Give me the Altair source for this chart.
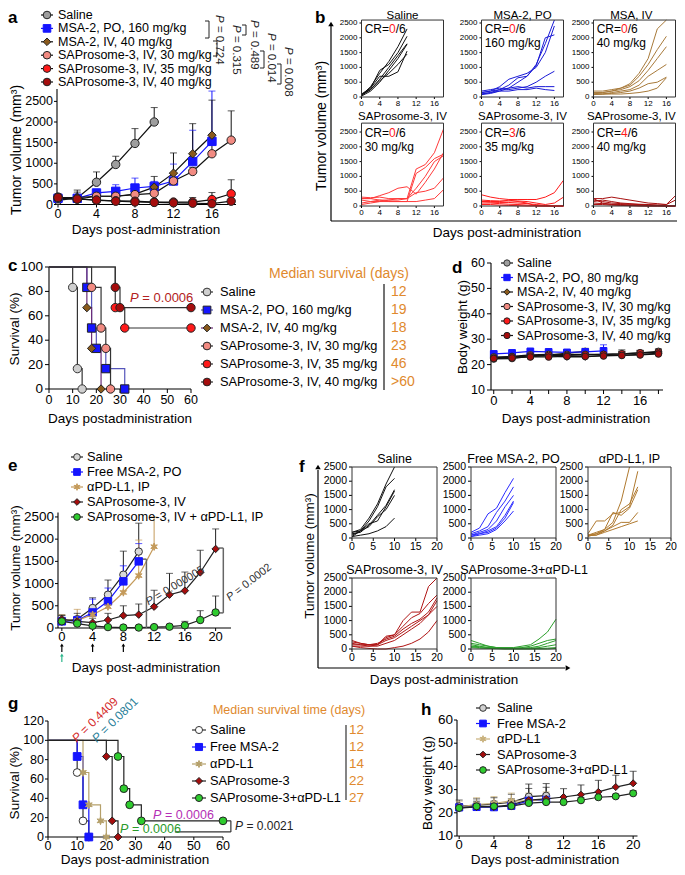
import math
import altair as alt
import pandas as pd

M = 8
W, H = 669, 859
FONT = "Liberation Sans"
ORANGE = "#E0892D"
STAR = "M0,-1L0.22,-0.38L0.87,-0.5L0.44,0L0.87,0.5L0.22,0.38L0,1L-0.22,0.38L-0.87,0.5L-0.44,0L-0.87,-0.5L-0.22,-0.38Z"

# ---------------- (a) mean tumour volume ----------------
a_names = ["Saline", "MSA-2, PO, 160 mg/kg", "MSA-2, IV, 40 mg/kg",
           "SAProsome-3, IV, 30 mg/kg", "SAProsome-3, IV, 35 mg/kg", "SAProsome-3, IV, 40 mg/kg"]
a_days = [0, 2, 4, 6, 8, 10, 12, 14, 16, 18]
a_saline = [100, 160, 540, 970, 1480, 2000]
a_saline_top = [220, 350, 790, 1170, 1840, 2350]
a_msa_po = [150, 150, 280, 320, 400, 440, 570, 1040, 1530]
a_msa_po_top = [200, 200, 330, 480, 640, 560, 980, 1800, 2750]
a_msa_iv = [170, 170, 200, 200, 250, 420, 760, 1230, 1680]
a_msa_iv_top = [260, 300, 250, 250, 300, 680, 1250, 1960, 2530]
a_sap30 = [150, 130, 200, 200, 240, 270, 570, 800, 1230, 1560]
a_sap30_top = [200, 200, 250, 250, 300, 350, 600, 900, 1500, 2270]
a_sap35 = [180, 140, 100, 90, 80, 60, 60, 60, 120, 260]
a_sap35_top = [230, 200, 150, 130, 120, 100, 100, 170, 290, 600]
a_sap40 = [170, 130, 110, 80, 60, 50, 40, 30, 20, 80]
a_sap40_top = [220, 180, 150, 120, 100, 80, 70, 60, 50, 200]
a_fill = ["#9e9e9e", "#1515ff", "#8a5a1c", "#f28b82", "#ff1a1a", "#a50d0d"]
a_stroke = ["#222222", "#1515ff", "#222222", "#222222", "#222222", "#222222"]
a_line = ["#111111", "#1515ff", "#111111", "#111111", "#111111", "#111111"]
a_shape = ["circle", "square", "diamond", "circle", "circle", "circle"]
a_pvals = ["= 0.724", "= 0.315", "= 0.489", "= 0.014", "= 0.008"]
a_xticks = [0, 4, 8, 12, 16]
a_yticks = [0, 500, 1000, 1500, 2000, 2500]

# ---------------- (b) individual curves ----------------
b_days = [0, 2, 4, 6, 8, 10, 12, 14, 16, 18]
b_titles = ["Saline", "MSA-2, PO", "MSA, IV", "SAProsome-3, IV", "SAProsome-3, IV", "SAProsome-3, IV"]
b_cr = ["0", "0", "0", "0", "3", "4"]
b_dose = ["", "160 mg/kg", "40 mg/kg", "30 mg/kg", "35 mg/kg", "40 mg/kg"]
b_colors = ["#111111", "#1a1ad6", "#a87a3a", "#ff3b3b", "#ff1a1a", "#a81010"]
b_saline = [[60, 350, 800, 1200, 1700, 2300], [50, 300, 900, 1100, 1500, 2050],
            [80, 250, 600, 1000, 1400, 1800], [30, 200, 500, 900, 1300, 1780],
            [100, 300, 700, 700, 850, 1550], [60, 250, 550, 800, 1100, 1450]]
b_msa_po = [[100, 150, 250, 400, 650, 700, 1100, 1800, 2800], [150, 200, 350, 600, 700, 800, 1000, 1500, 2400],
            [80, 120, 200, 300, 500, 700, 1050, 2000, 2100], [200, 250, 300, 250, 300, 350, 500, 700, 870],
            [150, 200, 250, 300, 350, 300, 350, 350, 350], [100, 150, 200, 200, 250, 250, 300, 250, 220]]
b_msa_iv = [[200, 200, 250, 300, 450, 800, 1300, 2300, 2800], [150, 150, 200, 300, 400, 700, 1100, 1600, 2050],
            [100, 150, 200, 250, 350, 550, 900, 1300, 1700], [100, 100, 150, 200, 250, 400, 700, 900, 1100],
            [80, 100, 120, 150, 200, 300, 450, 500, 670], [100, 100, 100, 100, 120, 150, 200, 300, 650]]
b_sap30 = [[300, 280, 300, 250, 250, 250, 1250, 1400, 1800, 2600], [250, 250, 350, 450, 600, 650, 400, 800, 1250, 1800],
           [200, 150, 200, 200, 250, 250, 600, 1000, 1500, 1700], [100, 150, 150, 200, 200, 250, 450, 500, 600, 950],
           [50, 100, 150, 150, 150, 150, 150, 200, 250, 550], [250, 250, 200, 150, 150, 150, 1100, 1300, 1600, 1750]]
b_sap35 = [[380, 300, 250, 220, 220, 220, 220, 300, 450, 870], [200, 180, 170, 170, 170, 150, 100, 50, 100, 300],
           [150, 130, 120, 120, 100, 80, 50, 20, 0, 0], [100, 100, 80, 60, 50, 30, 20, 0, 0, 0],
           [150, 150, 150, 200, 150, 100, 0, 0, 0, 0], [50, 50, 30, 20, 10, 0, 0, 0, 0, 0]]
b_sap40 = [[250, 250, 300, 250, 200, 150, 100, 80, 50, 350], [200, 150, 100, 80, 60, 50, 40, 30, 50, 200],
           [150, 200, 150, 100, 80, 60, 50, 30, 0, 0], [250, 100, 50, 30, 20, 10, 0, 0, 0, 0],
           [100, 80, 60, 50, 40, 30, 20, 10, 0, 0], [50, 50, 30, 20, 10, 0, 0, 0, 0, 0]]
b_xticks = [0, 4, 8, 12, 16]
b_yticks = [0, 500, 1000, 1500, 2000, 2500]

# ---------------- (c) survival ----------------
c_names = a_names
c_days = [[0, 10, 12, 14], [0, 16, 18, 20, 24, 32], [0, 16, 18, 22], [0, 18, 22, 24, 26], [0, 28, 32, 60], [0, 28, 30, 60]]
c_surv = [[100, 83.3, 16.7, 0], [100, 83.3, 50, 33.3, 16.7, 0], [100, 66.7, 33.3, 0],
          [100, 83.3, 50, 33.3, 0], [100, 66.7, 50, 50], [100, 83.3, 66.7, 66.7]]
c_median = ["12", "19", "18", "23", "46", ">60"]
c_fill = ["#cfcfcf", "#1515ff", "#8a5a1c", "#f28b82", "#ff1a1a", "#a50d0d"]
c_stroke = ["#333333", "#222222", "#222222", "#222222", "#222222", "#222222"]
c_line = ["#333333", "#5555bb", "#6b2d7a", "#333333", "#333333", "#333333"]
c_xticks = [0, 10, 20, 30, 40, 50, 60]
c_yticks = [0, 20, 40, 60, 80, 100]

# ---------------- (d) body weight ----------------
d_names = ["Saline", "MSA-2, PO, 80 mg/kg", "MSA-2, IV, 40 mg/kg",
           "SAProsome-3, IV, 30 mg/kg", "SAProsome-3, IV, 35 mg/kg", "SAProsome-3, IV, 40 mg/kg"]
d_days = [0, 2, 4, 6, 8, 10, 12, 14, 16, 18]
d_saline = [22.2, 22.4, 23.2, 23.6, 24.5, 25.2]
d_saline_top = [23.4, 23.8, 24.4, 25.0, 25.8, 26.4]
d_msa_po = [24.2, 24.6, 25.2, 25.0, 24.8, 25.0, 25.4]
d_msa_po_top = [25.0, 25.4, 26.0, 25.8, 25.6, 25.8, 27.8]
d_msa_iv = [22.8, 23.0, 23.4, 23.4, 23.0, 23.0, 23.6, 23.6, 24.0, 24.4]
d_msa_iv_top = [23.8, 24.0, 24.4, 24.4, 24.0, 24.0, 24.8, 25.8, 25.4, 25.4]
d_sap30 = [23.0, 23.2, 23.8, 24.0, 24.0, 24.0, 24.0, 24.2, 24.6, 25.2]
d_sap30_top = [24.0, 24.2, 24.8, 25.0, 25.0, 25.0, 25.0, 25.2, 25.6, 26.2]
d_sap35 = [22.6, 23.0, 23.4, 23.6, 23.6, 23.8, 24.0, 24.2, 24.6, 24.8]
d_sap35_top = [23.6, 24.0, 24.4, 24.6, 24.6, 24.8, 25.0, 25.2, 25.6, 25.8]
d_sap40 = [22.4, 22.6, 23.0, 23.0, 23.2, 23.2, 23.4, 23.6, 23.8, 24.2]
d_sap40_top = [23.4, 23.6, 24.0, 24.0, 24.2, 24.2, 24.4, 24.6, 24.8, 25.2]
d_xticks = [0, 2, 4, 6, 8, 10, 12, 14, 16, 18]
d_xlabels = ["0", "", "4", "", "8", "", "12", "", "16", ""]
d_yticks = [10, 20, 30, 40, 50, 60]

# ---------------- (e) combination ----------------
e_names = ["Saline", "Free MSA-2, PO", "αPD-L1, IP", "SAProsome-3, IV", "SAProsome-3, IV + αPD-L1, IP"]
e_days = [0, 2, 4, 6, 8, 10, 12, 14, 16, 18, 20]
e_saline = [150, 200, 450, 750, 1200, 1720]
e_saline_top = [280, 330, 680, 1080, 1730, 2360]
e_msa = [150, 170, 350, 600, 1050, 1500]
e_msa_top = [240, 260, 650, 900, 1400, 1900]
e_pd = [180, 170, 300, 480, 800, 1180, 1830]
e_pd_top = [300, 420, 480, 650, 1000, 1980, 2500]
e_sap = [200, 150, 120, 180, 280, 300, 480, 750, 840, 1250, 1780]
e_sap_top = [290, 250, 220, 330, 500, 540, 850, 1230, 1260, 1750, 2230]
e_combo = [150, 100, 50, 20, 10, 10, 20, 30, 60, 180, 350]
e_combo_top = [200, 150, 90, 50, 30, 30, 50, 80, 150, 390, 720]
e_fill = ["#d9d9d9", "#1515ff", "#c49a5a", "#a50d0d", "#2fcc2f"]
e_stroke = ["#333333", "#1515ff", "#c49a5a", "#222222", "#222222"]
e_line = ["#222222", "#1515ff", "#c49a5a", "#222222", "#222222"]
e_shape = ["circle", "square", STAR, "diamond", "circle"]
e_dose_days = [0, 4, 8]
e_pd_dose_days = [0]
e_xticks = [0, 4, 8, 12, 16, 20]
e_yticks = [0, 500, 1000, 1500, 2000, 2500]

# ---------------- (f) individual curves ----------------
f_days = [0, 2, 4, 6, 8, 10, 12, 14, 16, 18, 20]
f_titles = ["Saline", "Free MSA-2, PO", "αPD-L1, IP", "SAProsome-3, IV", "SAProsome-3+αPD-L1"]
f_colors = ["#111111", "#2b2bff", "#b07a30", "#b01515", "#2ca02c"]
f_saline = [[200, 300, 700, 1200, 1900, 2500], [100, 250, 600, 1100, 1800, 2100], [150, 200, 450, 800, 1150, 1700],
            [50, 250, 500, 600, 1100, 1650], [200, 250, 400, 750, 1000, 1500], [50, 100, 150, 250, 400, 700]]
f_msa = [[200, 350, 850, 1050, 1600, 2100], [150, 250, 400, 900, 1300, 1800], [100, 200, 300, 600, 1100, 1500],
         [100, 150, 250, 400, 800, 1300], [50, 150, 200, 350, 700, 1250], [50, 100, 150, 300, 600, 950]]
f_pd = [[100, 200, 300, 550, 1300, 2500], [150, 600, 600, 850, 900, 1100, 2350], [100, 150, 250, 450, 1000, 1200, 1800],
        [50, 150, 300, 900, 800, 1050, 1700], [100, 100, 250, 400, 550, 550, 900], [80, 100, 200, 300, 400, 500, 600]]
f_sap = [[300, 200, 150, 150, 450, 500, 1000, 1300, 1300, 2200, 2500], [250, 200, 150, 150, 400, 500, 800, 1100, 1250, 1600, 1900],
         [200, 150, 150, 200, 350, 450, 700, 900, 1050, 1300, 1800], [150, 150, 100, 150, 300, 400, 600, 800, 1000, 1200, 1700],
         [100, 100, 100, 100, 200, 300, 500, 700, 900, 1200, 1500], [100, 50, 20, 0, 0, 50, 100, 200, 350, 600, 1000]]
f_combo = [[300, 200, 100, 50, 50, 50, 100, 150, 350, 600, 1050], [200, 150, 100, 50, 30, 30, 50, 100, 200, 300, 350],
           [150, 100, 50, 30, 20, 20, 30, 50, 100, 200, 300], [100, 80, 50, 30, 20, 20, 20, 30, 50, 100, 150],
           [80, 50, 30, 20, 10, 10, 10, 10, 20, 30, 50], [50, 30, 20, 10, 0, 0, 0, 0, 0, 0, 20]]
f_xticks = [0, 5, 10, 15, 20]
f_yticks = [0, 500, 1000, 1500, 2000, 2500]

# ---------------- (g) survival ----------------
g_names = ["Saline", "Free MSA-2", "αPD-L1", "SAProsome-3", "SAProsome-3+αPD-L1"]
g_days = [[0, 10, 12, 14], [0, 10, 12, 14], [0, 12, 14, 18, 20], [0, 20, 22, 24], [0, 24, 26, 28, 32, 60]]
g_surv = [[100, 66.7, 16.7, 0], [100, 83.3, 33.3, 0], [100, 66.7, 33.3, 16.7, 0],
          [100, 83.3, 16.7, 0], [100, 83.3, 50, 33.3, 16.7, 16.7]]
g_median = ["12", "12", "14", "22", "27"]
g_fill = ["#ffffff", "#1515ff", "#b5a06a", "#a50d0d", "#2fcc2f"]
g_stroke = ["#333333", "#1515ff", "#b5a06a", "#222222", "#222222"]
g_line = ["#333333", "#1515ff", "#b5a06a", "#222222", "#222222"]
g_xticks = [0, 10, 20, 30, 40, 50, 60]
g_yticks = [0, 20, 40, 60, 80, 100, 120]

# ---------------- (h) body weight ----------------
h_days = [0, 2, 4, 6, 8, 10, 12, 14, 16, 18, 20]
h_saline = [22.8, 23.3, 23.8, 24.5, 27.0, 27.4]
h_saline_top = [25.5, 26.0, 26.5, 28.0, 32.4, 32.6]
h_msa = [22.3, 22.5, 22.4, 23.0, 25.2, 25.6]
h_msa_top = [24.0, 24.0, 24.0, 25.0, 27.0, 28.0]
h_pd = [22.5, 23.6, 24.0, 25.2, 25.0, 26.0]
h_pd_top = [25.0, 26.5, 27.0, 28.5, 28.5, 29.0]
h_sap = [22.0, 22.5, 22.5, 23.5, 25.5, 26.0, 26.8, 27.8, 29.0, 31.1, 32.7]
h_sap_top = [24.0, 25.0, 25.0, 26.0, 30.5, 31.0, 30.4, 32.0, 34.0, 36.2, 37.9]
h_combo = [22.1, 22.8, 22.8, 22.9, 24.2, 24.6, 24.6, 25.4, 26.7, 27.1, 28.4]
h_combo_top = [23.0, 23.5, 23.5, 24.0, 25.5, 26.0, 25.5, 26.5, 27.5, 28.0, 29.5]
h_fill = ["#d0d0d0", "#1515ff", "#c8b07a", "#a50d0d", "#2fcc2f"]
h_stroke = ["#333333", "#1515ff", "#c8b07a", "#222222", "#222222"]
h_line = ["#222222", "#1515ff", "#c8b07a", "#222222", "#222222"]
h_xticks = [0, 4, 8, 12, 16, 20]
h_yticks = [10, 20, 30, 40, 50, 60]


# ================= helpers =================
ONE = pd.DataFrame({"k": [0]})


def px(v):
    return v - M


def lin(domain, p0, p1, clamp=False):
    return alt.Scale(domain=domain, range=[px(p0), px(p1)], nice=False, zero=False, clamp=clamp)


def sc(names, rng):
    return alt.Scale(domain=names, range=rng)


def fmt(v):
    return str(int(v)) if float(v).is_integer() else str(v)


def axes(xsc, ysc, xdom, ydom, xat, yat, xticks, yticks, xfs, yfs, xlabels=None, ylabels=None,
         tick=4, pad=1, color="black", domain=True):
    out = []
    xn = lambda f: alt.X(f, scale=xsc, axis=None)
    yn = lambda f: alt.Y(f, scale=ysc, axis=None)
    if domain:
        dd = pd.DataFrame({"a": [xdom[0]], "b": [xdom[1]], "c": [ydom[0]], "d": [ydom[1]]})
        out.append(alt.Chart(dd).mark_rule(color=color, strokeWidth=1.1).encode(
            x=xn("a:Q"), x2="b:Q", y=alt.value(px(xat))))
        out.append(alt.Chart(dd).mark_rule(color=color, strokeWidth=1.1).encode(
            y=yn("c:Q"), y2="d:Q", x=alt.value(px(yat))))
    xt = pd.DataFrame({"v": xticks, "lab": xlabels if xlabels is not None else [fmt(v) for v in xticks]})
    yt = pd.DataFrame({"v": yticks, "lab": ylabels if ylabels is not None else [fmt(v) for v in yticks]})
    out.append(alt.Chart(xt).mark_rule(color=color, strokeWidth=1).encode(
        x=xn("v:Q"), y=alt.value(px(xat)), y2=alt.value(px(xat) + tick)))
    out.append(alt.Chart(xt).mark_text(baseline="top", fontSize=xfs, color="black").encode(
        x=xn("v:Q"), y=alt.value(px(xat) + tick + pad), text="lab:N"))
    out.append(alt.Chart(yt).mark_rule(color=color, strokeWidth=1).encode(
        y=yn("v:Q"), x=alt.value(px(yat) - tick), x2=alt.value(px(yat))))
    out.append(alt.Chart(yt).mark_text(align="right", baseline="middle", fontSize=yfs, color="black").encode(
        y=yn("v:Q"), x=alt.value(px(yat) - tick - pad - 1), text="lab:N"))
    return out


def curve_panel(names, days, vals, tops, shapes, fills, strokes, lines, xsc, ysc, axes_layers,
                size=50, interp="linear", lw=1.2, skip0=False, extra=()):
    rows, prow, erows = [], [], []
    for i, n in enumerate(names):
        for j, v in enumerate(vals[i]):
            rows.append({"s": n, "day": days[i][j], "v": v})
            if not (skip0 and j == 0):
                prow.append({"s": n, "day": days[i][j], "v": v})
            if tops is not None:
                erows.append({"s": n, "day": days[i][j], "v": v, "top": tops[i][j]})
    df = pd.DataFrame(rows)
    col = alt.Color("s:N", scale=sc(names, lines), legend=None)
    xn = alt.X("day:Q", scale=xsc, axis=None)
    yn = alt.Y("v:Q", scale=ysc, axis=None)
    layers = list(axes_layers)
    layers.append(alt.Chart(df).mark_line(strokeWidth=lw, interpolate=interp).encode(
        x=xn, y=yn, color=col, detail="s:N"))
    if erows:
        edf = pd.DataFrame(erows)
        layers.append(alt.Chart(edf).mark_rule(strokeWidth=1).encode(x=xn, y=yn, y2="top:Q", color=col))
        layers.append(alt.Chart(edf).mark_tick(orient="horizontal", size=7, thickness=1).encode(
            x=xn, y=alt.Y("top:Q", scale=ysc, axis=None), color=col))
    layers.extend(extra)
    layers.append(alt.Chart(pd.DataFrame(prow)).mark_point(filled=True, size=size, strokeWidth=1, opacity=1).encode(
        x=xn, y=yn,
        shape=alt.Shape("s:N", scale=sc(names, shapes), legend=None),
        fill=alt.Fill("s:N", scale=sc(names, fills), legend=None),
        stroke=alt.Stroke("s:N", scale=sc(names, strokes), legend=None)))
    return alt.layer(*layers)


def dtext(xv, yv, texts, xsc, ysc, **mk):
    df = pd.DataFrame({"x": xv, "y": yv, "t": texts})
    return alt.Chart(df).mark_text(**mk).encode(
        x=alt.X("x:Q", scale=xsc, axis=None), y=alt.Y("y:Q", scale=ysc, axis=None), text="t:N")


def dsegs(segs, xsc, ysc, color="black", w=1):
    df = pd.DataFrame(segs, columns=["x0", "x1", "y0", "y1"])
    return alt.Chart(df).mark_rule(color=color, strokeWidth=w).encode(
        x=alt.X("x0:Q", scale=xsc, axis=None), x2="x1:Q",
        y=alt.Y("y0:Q", scale=ysc, axis=None), y2="y1:Q")


def spag(curves, days, color, left, bottom, width, height, xdom, ydom, xticks, yticks, fs,
         title, title_x, tfs=12.5, title_dy=-1, tick=3, extra_fn=None):
    xsc = lin(xdom, left, left + width, clamp=True)
    ysc = lin(ydom, bottom, bottom - height, clamp=True)
    rows = [{"m": k, "day": days[j], "v": v} for k, c in enumerate(curves) for j, v in enumerate(c)]
    df = pd.DataFrame(rows)
    layers = axes(xsc, ysc, xdom, ydom, bottom, left, xticks, yticks, fs, fs, tick=tick, pad=1, domain=False)
    layers.append(alt.Chart(df).mark_line(color=color, strokeWidth=1).encode(
        x=alt.X("day:Q", scale=xsc, axis=None), y=alt.Y("v:Q", scale=ysc, axis=None), detail="m:N"))
    fr = pd.DataFrame({"x0": [xdom[0]], "x1": [xdom[1]], "y0": [ydom[0]], "y1": [ydom[1]]})
    layers.append(alt.Chart(fr).mark_rect(filled=False, stroke="#333333", strokeWidth=1).encode(
        x=alt.X("x0:Q", scale=xsc, axis=None), x2="x1:Q", y=alt.Y("y0:Q", scale=ysc, axis=None), y2="y1:Q"))
    layers.append(dtext([title_x], [ydom[1]], [title], xsc, ysc, baseline="bottom", dy=title_dy,
                        fontSize=tfs, color="black"))
    if extra_fn is not None:
        layers.extend(extra_fn(xsc, ysc))
    return alt.layer(*layers)


def legend(names, rows, xsym, xl0, xl1, xtext, shapes, fills, strokes, lines, fs, size,
           nums=None, xnum=None, numfs=14):
    n = len(names)
    df = pd.DataFrame({"s": names, "i": list(range(n))})
    ysc = alt.Scale(domain=[0, 1], range=[px(rows[0]), px(rows[1])], nice=False, zero=False)
    ye = alt.Y("i:Q", scale=ysc, axis=None)
    base = alt.Chart(df)
    layers = [
        base.mark_rule(strokeWidth=1.2).encode(x=alt.value(px(xl0)), x2=alt.value(px(xl1)), y=ye,
                                               color=alt.Color("s:N", scale=sc(names, lines), legend=None)),
        base.mark_point(filled=True, size=size, strokeWidth=1, opacity=1).encode(
            x=alt.value(px(xsym)), y=ye,
            shape=alt.Shape("s:N", scale=sc(names, shapes), legend=None),
            fill=alt.Fill("s:N", scale=sc(names, fills), legend=None),
            stroke=alt.Stroke("s:N", scale=sc(names, strokes), legend=None)),
        base.mark_text(align="left", baseline="middle", fontSize=fs, color="black").encode(
            x=alt.value(px(xtext)), y=ye, text="s:N"),
    ]
    if nums is not None:
        ndf = pd.DataFrame({"t": nums, "i": list(range(n))})
        layers.append(alt.Chart(ndf).mark_text(align="left", baseline="middle", fontSize=numfs, color=ORANGE).encode(
            x=alt.value(px(xnum)), y=ye, text="t:N"))
    return alt.layer(*layers)


def label(x, y, text, fs, angle=0, color="black", align="center", weight="normal", style="normal", baseline="middle"):
    return alt.Chart(ONE).mark_text(text=text, fontSize=fs, angle=angle, color=color, align=align,
                                    fontWeight=weight, fontStyle=style, baseline=baseline).encode(
        x=alt.value(px(x)), y=alt.value(px(y)))


def ptext(x0, y0, rest, color, fs, angle=0):
    a = math.radians(angle)
    w = 0.95 * fs
    x1, y1 = x0 + w * math.cos(a), y0 + w * math.sin(a)
    return [label(x0, y0, "P", fs, angle, color, "left", style="italic"),
            label(x1, y1, rest, fs, angle, color, "left")]


def rule(x0, x1, y0, y1, color="black", w=1.2):
    return alt.Chart(ONE).mark_rule(color=color, strokeWidth=w).encode(
        x=alt.value(px(x0)), x2=alt.value(px(x1)), y=alt.value(px(y0)), y2=alt.value(px(y1)))


def tri(x, y, shape, size=40, color="black"):
    return alt.Chart(ONE).mark_point(shape=shape, filled=True, size=size, color=color, opacity=1).encode(
        x=alt.value(px(x)), y=alt.value(px(y)))


def dose_arrows(days, xsc, y0, y1, color):
    df = pd.DataFrame({"day": days})
    xe = alt.X("day:Q", scale=xsc, axis=None)
    return [alt.Chart(df).mark_rule(color=color, strokeWidth=1.2).encode(
                x=xe, y=alt.value(px(y0) + 2), y2=alt.value(px(y1))),
            alt.Chart(df).mark_point(shape="triangle-up", filled=True, size=14, color=color, opacity=1).encode(
                x=xe, y=alt.value(px(y0) + 1))]


children = []

# ================= panel a =================
a_xdom, a_ydom = [0, 18.5], [0, 2800]
a_xsc = lin(a_xdom, 58, 236)
a_ysc = lin(a_ydom, 204.5, 89)
a_vals = [a_saline, a_msa_po, a_msa_iv, a_sap30, a_sap35, a_sap40]
a_tops = [a_saline_top, a_msa_po_top, a_msa_iv_top, a_sap30_top, a_sap35_top, a_sap40_top]
children.append(curve_panel(
    a_names, [a_days[:len(v)] for v in a_vals], a_vals, a_tops, a_shape, a_fill, a_stroke, a_line,
    a_xsc, a_ysc, axes(a_xsc, a_ysc, a_xdom, a_ydom, 204.5, 57, a_xticks, a_yticks, 12.5, 12.5, tick=3, pad=0),
    size=70))
children.append(label(146, 229.5, "Days post-administration", 13.5))
children.append(label(17, 150, "Tumor volume (mm³)", 14, 270))
children.append(legend(a_names, [15, 28.4], 47, 41, 53, 58, a_shape, a_fill, a_stroke, a_line, 12.5, 58))
for (bx, by0, by1) in [(209, 21, 38), (217, 41, 56), (246, 25, 35), (264, 51, 68), (281, 64, 84)]:
    children.append(rule(bx, bx, by0, by1, "#222222", 1))
    children.append(rule(bx - 4, bx, by0, by0, "#222222", 1))
    children.append(rule(bx - 4, bx, by1, by1, "#222222", 1))
for (tx, ty), pv in zip([(219, 15), (236, 25), (254, 20), (271, 33), (288, 47)], a_pvals):
    children.extend(ptext(tx, ty, pv, "#222222", 11.5, 90))

# ================= panel b =================
b_curves = [b_saline, b_msa_po, b_msa_iv, b_sap30, b_sap35, b_sap40]
b_lefts = [361.5, 481.5, 593.5]
b_bottoms = [97, 206]
b_tops = [2600, 2800]
b_title_fs = [11.5, 11.5]
b_title_dy = [1, -1]
b_title_x = [9, 9, 8.3]
b_cr_y = [2290, 2470]
b_dose_y = [1810, 1990]
for k in range(6):
    left = b_lefts[k % 3]
    row = k // 3
    ymax = b_tops[row]

    def b_extra(xsc, ysc, k=k, row=row):
        cy, dy_ = b_cr_y[row], b_dose_y[row]
        out = [dtext([0.7], [cy], ["CR="], xsc, ysc, align="left", baseline="middle", fontSize=12, color="black"),
               dtext([6.05], [cy], [b_cr[k]], xsc, ysc, align="left", baseline="middle", fontSize=12, color="#ff1a1a"),
               dtext([7.5], [cy], ["/6"], xsc, ysc, align="left", baseline="middle", fontSize=12, color="black")]
        if b_dose[k]:
            out.append(dtext([0.7], [dy_], [b_dose[k]], xsc, ysc, align="left", baseline="middle",
                             fontSize=12, color="black"))
        return out

    children.append(spag(b_curves[k], b_days, b_colors[k], left, b_bottoms[row], 82, ymax * 0.0296,
                         [0, 18], [0, ymax], b_xticks, b_yticks, 8, b_titles[k], b_title_x[k % 3],
                         b_title_fs[row], b_title_dy[row], 2, b_extra))
children.append(rule(331, 331, 26, 221, "black", 1.2))
children.append(tri(331, 24, "triangle-up", 30))
children.append(rule(331, 677, 221, 221, "black", 1.2))
children.append(tri(680, 221, "triangle-right", 30))
children.append(label(322, 126, "Tumor volume (mm³)", 14, 270))
children.append(label(507, 233, "Days post-administration", 13.5))

# ================= panel c =================
c_xdom, c_ydom = [0, 60], [0, 100]
c_xsc = lin(c_xdom, 49, 191)
c_ysc = lin(c_ydom, 389, 267)
children.append(curve_panel(
    c_names, c_days, c_surv, None, a_shape, c_fill, c_stroke, c_line, c_xsc, c_ysc,
    axes(c_xsc, c_ysc, c_xdom, c_ydom, 389, 49, c_xticks, c_yticks, 12.5, 13.5),
    size=70, interp="step-after", skip0=True))
children.append(label(120, 419, "Days postadministration", 13.5))
children.append(label(15, 329, "Survival (%)", 13.5, 270))
children.append(legend(c_names, [292, 310], 207, 201, 213, 220, a_shape, c_fill, c_stroke, c_line, 12.8, 60,
                       nums=c_median, xnum=391, numfs=14))
children.append(rule(384, 384, 284, 390, "#444444", 1.5))
children.append(label(339, 274, "Median survival (days)", 14, color=ORANGE))
children.extend(ptext(130, 298, "= 0.0006", "#b22222", 13))

# ================= panel d =================
d_xdom, d_ydom = [-0.3, 18.5], [10, 60]
d_xsc = lin(d_xdom, 491, 663)
d_ysc = lin(d_ydom, 390, 263)
d_vals = [d_saline, d_msa_po, d_msa_iv, d_sap30, d_sap35, d_sap40]
d_tops = [d_saline_top, d_msa_po_top, d_msa_iv_top, d_sap30_top, d_sap35_top, d_sap40_top]
d_stroke = ["#333333", "#1515ff", "#222222", "#222222", "#222222", "#222222"]
d_fill = ["#9e9e9e", "#1515ff", "#8a5a1c", "#f28b82", "#ff1a1a", "#a50d0d"]
children.append(curve_panel(
    d_names, [d_days[:len(v)] for v in d_vals], d_vals, d_tops, a_shape, d_fill, d_stroke, a_line,
    d_xsc, d_ysc,
    axes(d_xsc, d_ysc, d_xdom, d_ydom, 390, 491, d_xticks, d_yticks, 13, 12.5, xlabels=d_xlabels),
    size=45))
children.append(label(576, 419, "Days post-administration", 13.5))
children.append(label(463, 327, "Body weight (g)", 13.5, 270))
children.append(legend(d_names, [263, 277.5], 507, 501, 513, 517, a_shape, d_fill, d_stroke, a_line, 12.5, 40))

# ================= panel e =================
e_xdom, e_ydom = [-0.5, 22], [0, 2600]
e_xsc = lin(e_xdom, 58, 231)
e_ysc = lin(e_ydom, 628, 512.5)
e_vals = [e_saline, e_msa, e_pd, e_sap, e_combo]
e_tops = [e_saline_top, e_msa_top, e_pd_top, e_sap_top, e_combo_top]
e_brk = dsegs([(10.5, 11, 1550, 1550), (11, 11, 1550, 0), (20.4, 21, 1800, 1800), (21, 21, 1800, 340),
               (20.4, 21, 340, 340)], e_xsc, e_ysc, "#666666", 1.5)
e_extra = dose_arrows(e_dose_days, e_xsc, 644, 652, "black") + dose_arrows(e_pd_dose_days, e_xsc, 654, 662, "#2bb58a") + [e_brk]
children.append(curve_panel(
    e_names, [e_days[:len(v)] for v in e_vals], e_vals, e_tops, e_shape, e_fill, e_stroke, e_line,
    e_xsc, e_ysc,
    axes(e_xsc, e_ysc, e_xdom, e_ydom, 628, 58, e_xticks, e_yticks, 13, 13.5, tick=3, pad=0),
    size=55, extra=e_extra))
children.append(label(146, 668, "Days post-administration", 13.5))
children.append(label(15.5, 568, "Tumor volume (mm³)", 13.5, 270))
children.append(legend(e_names, [457, 472], 77, 71, 83, 87, e_shape, e_fill, e_stroke, e_line, 12.8, 45))
children.extend(ptext(147, 603, "= 0.000005", "#333333", 11, 329))
children.extend(ptext(228, 599, "= 0.0002", "#333333", 11, 322))

# ================= panel f =================
f_curves = [f_saline, f_msa, f_pd, f_sap, f_combo]
f_lefts = [352, 471, 588]
f_widths = [85, 85, 83]
f_bottoms = [538, 649]
f_title_x = [10, 10, 10, 10, 12.5]
for k in range(5):
    children.append(spag(f_curves[k], f_days, f_colors[k], f_lefts[k % 3], f_bottoms[k // 3], f_widths[k % 3], 71,
                         [0, 20], [0, 2500], f_xticks, f_yticks, 10.5, f_titles[k], f_title_x[k], 12.5))
children.append(rule(318, 318, 470, 668, "black", 1.2))
children.append(tri(318, 467, "triangle-up", 30))
children.append(rule(318, 565, 668, 668, "black", 1.2))
children.append(tri(568, 668, "triangle-right", 30))
children.append(label(310, 556, "Tumor volume (mm³)", 13.5, 270))
children.append(label(444, 680, "Days post-administration", 13.5))

# ================= panel g =================
g_xdom, g_ydom = [0, 60], [0, 120]
g_xsc = lin(g_xdom, 48, 223)
g_ysc = lin(g_ydom, 837, 721)
g_shape = ["circle", "square", STAR, "diamond", "circle"]
g_brk = dsegs([(60, 62.7, 16.7, 16.7), (62.7, 62.7, 16.7, 5.2), (43.5, 62.7, 5.2, 5.2)], g_xsc, g_ysc, "#333333", 1.2)
children.append(curve_panel(
    g_names, g_days, g_surv, None, g_shape, g_fill, g_stroke, g_line, g_xsc, g_ysc,
    axes(g_xsc, g_ysc, g_xdom, g_ydom, 837, 48, g_xticks, g_yticks, 12.5, 12.5, tick=3, pad=0),
    size=60, interp="step-after", skip0=True, extra=[g_brk]))
children.append(label(135, 860, "Days post-administration", 13.5))
children.append(label(15, 783, "Survival (%)", 13.5, 270))
children.append(legend(g_names, [730, 747], 199, 192, 206, 210, g_shape, g_fill, g_stroke, g_line, 12.8, 50,
                       nums=g_median, xnum=349, numfs=13.5))
children.append(rule(346, 346, 725, 800, "#333333", 1.2))
children.append(label(289, 710, "Median survival time (days)", 12.5, color=ORANGE))
children.extend(ptext(74, 740, "= 0.4409", "#d42a2a", 12, 316))
children.extend(ptext(94, 740, "= 0.0801", "#2a7f9a", 12, 316))
children.extend(ptext(153, 815, "= 0.0006", "#b52fb5", 12.5))
children.extend(ptext(120, 829, "= 0.0006", "#2a9a2a", 12.5))
children.extend(ptext(235, 826, "= 0.0021", "#222222", 12))

# ================= panel h =================
h_xdom, h_ydom = [-0.25, 20.5], [10, 60]
h_xsc = lin(h_xdom, 457, 637.5)
h_ysc = lin(h_ydom, 836, 720)
h_vals = [h_saline, h_msa, h_pd, h_sap, h_combo]
h_tops = [h_saline_top, h_msa_top, h_pd_top, h_sap_top, h_combo_top]
children.append(curve_panel(
    g_names, [h_days[:len(v)] for v in h_vals], h_vals, h_tops, g_shape, h_fill, h_stroke, h_line,
    h_xsc, h_ysc,
    axes(h_xsc, h_ysc, h_xdom, h_ydom, 836, 457, h_xticks, h_yticks, 13, 13.5, tick=3, pad=0),
    size=50))
children.append(label(545, 860, "Days post-administration", 13.5))
children.append(label(428, 783, "Body weight (g)", 13.5, 270))
children.append(legend(g_names, [708, 723.5], 483, 476, 490, 497, g_shape, h_fill, h_stroke, h_line, 12.8, 45))

# ================= panel letters =================
for (lx, ly, lt) in [(8, 23, "a"), (315, 23, "b"), (8, 271, "c"), (452, 273, "d"),
                     (8, 471, "e"), (299, 472, "f"), (8, 709, "g"), (421, 715, "h")]:
    children.append(label(lx, ly, lt, 17, weight="bold", align="left", baseline="alphabetic"))

chart = alt.layer(*children).resolve_scale(
    x="independent", y="independent", color="independent", fill="independent",
    stroke="independent", shape="independent"
).properties(
    width=W, height=H, padding=0, autosize=alt.AutoSizeParams(type="none")
).configure(font=FONT).configure_view(stroke="transparent")

chart.save("out.html", embed_options={"renderer": "svg", "actions": False})
